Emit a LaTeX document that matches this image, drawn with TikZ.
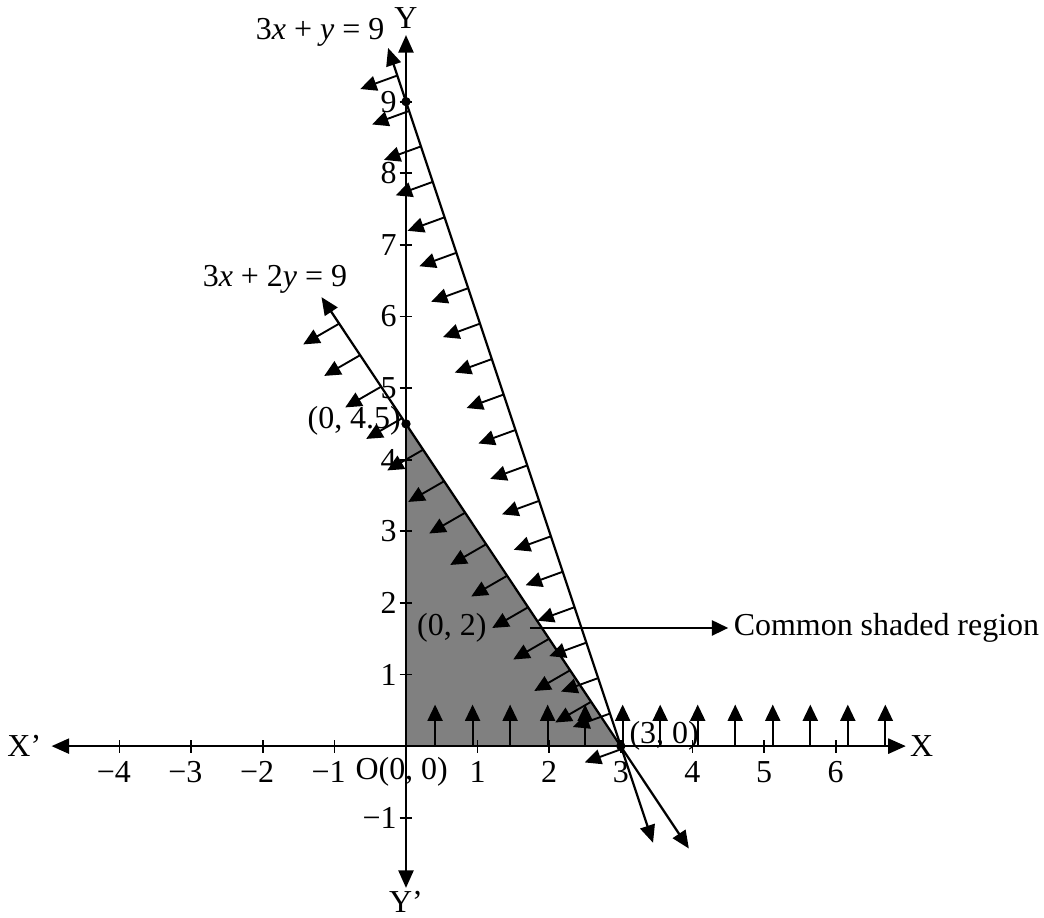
\documentclass[tikz,border=0pt]{standalone}
\usepackage{fontspec}
\setmainfont{Liberation Serif}
\usetikzlibrary{arrows.meta}
\begin{document}
\begin{tikzpicture}[x=1cm,y=1cm,
  tip/.style={-{Triangle[length=6.5pt,width=6pt]}},
  both/.style={{Triangle[length=7pt,width=6pt]}-{Triangle[length=7pt,width=6pt]}},
  hatch/.style={tip,line width=0.75pt},
  lbl/.style={font=\fontsize{12.7}{15}\selectfont,inner sep=1pt}]
\useasboundingbox (-5.67,-2.40) rectangle (8.91,10.42);
\fill[black!50] (0,0) -- (3,0) -- (0,4.5) -- cycle;
\foreach \k in {0,...,12}
  \draw[hatch] ({0.406+0.524*\k},0) -- ++(0,0.58);
\foreach \k in {0,...,19}
  \draw[hatch] ({3-(0.495*\k-0.04)/3},{0.495*\k-0.04}) -- ++(200:0.55);
\foreach \k in {0,...,12}
  \draw[hatch] ({3-2*(5.9-0.44*\k)/3},{5.9-0.44*\k}) -- ++(210:0.58);
\draw[line width=0.9pt,both] (-0.25,9.75) -- (3.45,-1.35);
\draw[line width=0.9pt,both] (-1.18,6.27) -- (3.95,-1.43);
\draw[line width=0.9pt,both] (-4.95,0) -- (6.98,0);
\draw[line width=0.9pt,both] (0,-1.98) -- (0,9.93);
\foreach \i in {-4,-3,-2,-1,1,2,3,4,5,6}
  \draw[line width=0.7pt] (\i,-0.09) -- (\i,0.09);
\foreach \i in {-1,1,2,3,4,5,6,7,8,9}
  \draw[line width=0.7pt] (-0.09,\i) -- (0.09,\i);
\foreach \i in {1,...,6}
  \node[lbl] (xp\i) at (\i,-0.36) {\i};
\foreach \i in {1,...,4}
  \node[lbl] (xn\i) at (-\i-0.08,-0.36) {−\i};
\foreach \i in {1,...,9}
  \node[lbl,anchor=east] (yp\i) at (-0.09,\i) {\i};
\node[lbl,anchor=east] (yn1) at (-0.09,-1) {−1};
\fill (0,9) circle (0.065);
\fill (0,4.5) circle (0.065);
\fill (3,0) circle (0.065);
\node[lbl] (xneg) at (-5.33,0) {X’};
\node[lbl] (xpos) at (7.2,0) {X};
\node[lbl] (ypos) at (0,10.17) {Y};
\node[lbl] (yneg) at (0,-2.17) {Y’};
\node[lbl] (eqa) at (-1.2,9.97) {3\textit{x} + \textit{y} = 9};
\node[lbl] (eqb) at (-1.83,6.52) {3\textit{x} + 2\textit{y} = 9};
\node[lbl,anchor=east] (pa) at (-0.03,4.55) {(0, 4.5)};
\node[lbl] (pb) at (0.64,1.65) {(0, 2)};
\node[lbl,anchor=west] (pc) at (3.08,0.15) {(3, 0)};
\node[lbl] (po) at (-0.06,-0.36) {O(0, 0)};
\coordinate (reg) at (1.73,1.65);
\node[lbl,anchor=west,inner sep=2pt] (csr) at (4.5,1.65) {Common shaded region};
\draw[line width=0.9pt,tip] (reg) -- (csr.west);
\end{tikzpicture}
\end{document}
